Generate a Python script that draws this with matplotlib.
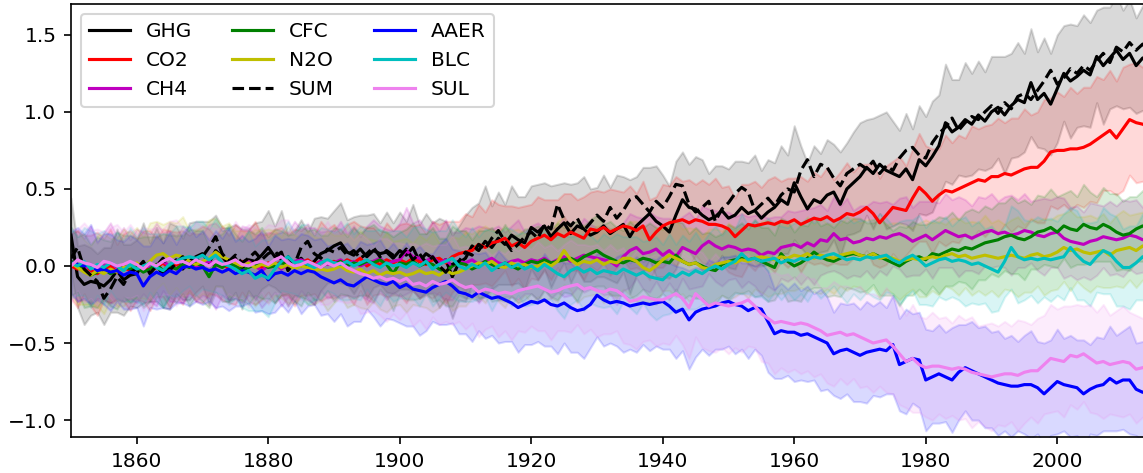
import numpy as np
import matplotlib
matplotlib.use("Agg")
import matplotlib.pyplot as plt

years = list(range(1850, 2015))

# ensemble means (one value per year)
ghg = [0.20, -0.07, -0.12, -0.10, -0.11, -0.13, -0.09, -0.03, -0.09, -0.06,
       -0.05, 0.02, -0.04, 0.01, -0.06, 0.00, 0.04, -0.02, 0.03, 0.06,
       0.08, 0.02, 0.10, 0.06, 0.01, 0.05, -0.02, 0.04, 0.03, 0.07,
       0.12, 0.06, 0.09, -0.03, 0.02, 0.05, 0.00, 0.03, 0.08, 0.10,
       0.13, 0.15, 0.09, 0.07, 0.11, 0.06, 0.10, 0.08, 0.09, 0.05,
       0.10, 0.07, 0.12, 0.03, 0.08, 0.05, 0.02, 0.04, -0.07, 0.02,
       0.05, 0.13, 0.10, 0.16, 0.12, 0.18, 0.14, 0.20, 0.17, 0.15,
       0.25, 0.22, 0.26, 0.19, 0.24, 0.28, 0.21, 0.26, 0.24, 0.20,
       0.22, 0.26, 0.21, 0.24, 0.27, 0.19, 0.26, 0.30, 0.34, 0.29,
       0.26, 0.22, 0.33, 0.43, 0.38, 0.37, 0.33, 0.30, 0.32, 0.36,
       0.31, 0.33, 0.38, 0.34, 0.36, 0.31, 0.35, 0.38, 0.43, 0.40,
       0.54, 0.45, 0.37, 0.43, 0.41, 0.46, 0.48, 0.40, 0.50, 0.54,
       0.58, 0.64, 0.60, 0.66, 0.62, 0.60, 0.58, 0.63, 0.56, 0.69,
       0.65, 0.71, 0.78, 0.93, 0.87, 0.90, 0.95, 0.92, 0.98, 0.94,
       1.00, 1.03, 0.98, 1.04, 1.08, 1.06, 1.19, 1.08, 1.12, 1.05,
       1.15, 1.25, 1.20, 1.23, 1.27, 1.24, 1.36, 1.30, 1.35, 1.40,
       1.34, 1.38, 1.30, 1.35, 1.33]
co2 = [0.00, -0.02, 0.01, -0.03, -0.05, -0.02, 0.00, -0.04, -0.01, -0.03,
       -0.02, 0.00, -0.03, -0.01, 0.02, -0.02, 0.01, -0.01, 0.02, 0.00,
       0.01, 0.03, 0.00, 0.02, -0.02, 0.01, 0.03, 0.00, 0.02, -0.01,
       0.02, 0.00, 0.03, 0.01, -0.01, 0.02, 0.04, 0.01, 0.03, 0.02,
       0.03, 0.01, 0.04, 0.02, 0.05, 0.00, 0.03, 0.01, 0.04, 0.02,
       0.04, 0.02, 0.05, 0.03, 0.01, 0.04, 0.05, 0.02, 0.06, 0.08,
       0.09, 0.10, 0.14, 0.12, 0.15, 0.16, 0.18, 0.13, 0.15, 0.12,
       0.16, 0.18, 0.20, 0.17, 0.21, 0.19, 0.22, 0.20, 0.18, 0.24,
       0.23, 0.25, 0.22, 0.24, 0.26, 0.25, 0.23, 0.26, 0.17, 0.22,
       0.26, 0.28, 0.29, 0.30, 0.28, 0.30, 0.29, 0.27, 0.27, 0.26,
       0.24, 0.19, 0.23, 0.27, 0.26, 0.27, 0.28, 0.27, 0.29, 0.28,
       0.30, 0.27, 0.29, 0.31, 0.30, 0.32, 0.29, 0.31, 0.34, 0.33,
       0.35, 0.38, 0.34, 0.28, 0.33, 0.38, 0.37, 0.36, 0.44, 0.51,
       0.47, 0.42, 0.46, 0.49, 0.48, 0.50, 0.52, 0.54, 0.56, 0.55,
       0.58, 0.58, 0.60, 0.59, 0.61, 0.63, 0.64, 0.64, 0.68, 0.74,
       0.75, 0.75, 0.76, 0.76, 0.77, 0.79, 0.82, 0.85, 0.88, 0.83,
       0.89, 0.95, 0.93, 0.92, 0.90]
ch4 = [0.02, 0.00, -0.02, 0.01, -0.03, 0.00, 0.02, -0.01, 0.01, -0.02,
       0.00, 0.02, -0.01, 0.01, 0.03, 0.00, -0.02, 0.01, 0.02, -0.01,
       0.01, 0.03, 0.00, 0.02, 0.01, -0.02, 0.01, 0.03, 0.00, -0.03,
       0.00, 0.02, -0.02, 0.01, 0.03, 0.04, 0.02, 0.00, 0.03, 0.01,
       0.02, 0.04, 0.01, 0.03, 0.00, 0.02, 0.03, 0.05, 0.01, 0.03,
       0.04, 0.10, 0.06, 0.05, 0.03, 0.06, 0.02, 0.04, 0.00, 0.03,
       0.02, 0.04, 0.01, 0.03, 0.05, 0.02, 0.01, 0.03, 0.04, 0.02,
       0.04, 0.03, 0.05, 0.02, 0.04, 0.06, 0.03, 0.05, 0.07, 0.06,
       0.05, 0.04, 0.03, 0.00, 0.06, 0.10, 0.12, 0.08, 0.09, 0.11,
       0.07, 0.10, 0.06, 0.12, 0.10, 0.08, 0.13, 0.16, 0.13, 0.11,
       0.13, 0.12, 0.10, 0.11, 0.10, 0.07, 0.09, 0.08, 0.12, 0.13,
       0.14, 0.12, 0.15, 0.13, 0.17, 0.16, 0.21, 0.17, 0.18, 0.15,
       0.16, 0.18, 0.17, 0.19, 0.18, 0.20, 0.21, 0.19, 0.16, 0.18,
       0.20, 0.17, 0.20, 0.23, 0.21, 0.19, 0.20, 0.18, 0.20, 0.22,
       0.23, 0.21, 0.22, 0.20, 0.21, 0.23, 0.22, 0.20, 0.19, 0.21,
       0.22, 0.18, 0.16, 0.15, 0.14, 0.16, 0.17, 0.19, 0.18, 0.17,
       0.18, 0.20, 0.19, 0.17, 0.18]
cfc = [0.03, 0.01, -0.03, -0.06, -0.04, -0.02, -0.05, -0.03, 0.00, -0.02,
       -0.01, -0.04, -0.02, 0.01, -0.03, 0.00, -0.02, 0.01, -0.01, 0.02,
       0.00, -0.07, 0.01, -0.01, 0.02, 0.00, -0.03, -0.01, 0.01, 0.02,
       -0.01, 0.00, 0.02, 0.01, -0.01, 0.00, 0.03, 0.01, -0.01, 0.02,
       0.01, 0.03, 0.00, 0.02, 0.01, 0.03, 0.02, 0.04, 0.01, -0.05,
       0.02, 0.01, 0.03, 0.00, 0.02, 0.01, -0.02, -0.04, 0.00, 0.02,
       0.01, -0.02, 0.00, 0.03, 0.01, -0.01, 0.02, 0.00, -0.02, 0.01,
       0.03, 0.02, 0.04, 0.02, 0.03, 0.04, 0.05, 0.03, 0.06, 0.08,
       0.10, 0.07, 0.05, 0.03, 0.02, 0.04, 0.03, 0.05, 0.04, 0.02,
       0.03, 0.02, 0.07, 0.03, 0.01, 0.02, 0.00, -0.02, -0.03, 0.01,
       0.03, 0.04, 0.05, 0.04, 0.05, 0.03, 0.01, -0.01, 0.08, 0.03,
       0.00, 0.02, 0.05, 0.09, 0.06, 0.04, 0.03, 0.05, 0.07, 0.08,
       0.07, 0.06, 0.08, 0.06, 0.04, 0.02, 0.00, 0.03, 0.05, 0.06,
       0.04, 0.08, 0.07, 0.09, 0.11, 0.10, 0.12, 0.11, 0.13, 0.15,
       0.16, 0.17, 0.19, 0.20, 0.18, 0.17, 0.19, 0.22, 0.23, 0.25,
       0.22, 0.26, 0.24, 0.23, 0.27, 0.25, 0.24, 0.27, 0.25, 0.22,
       0.20, 0.21, 0.24, 0.26, 0.25]
n2o = [0.02, -0.01, -0.04, -0.06, -0.03, -0.05, -0.02, -0.04, -0.01, 0.00,
       0.02, -0.01, 0.03, 0.07, 0.08, 0.05, 0.07, 0.06, 0.03, 0.01,
       0.03, 0.05, 0.09, 0.06, 0.04, 0.02, 0.00, 0.02, -0.01, 0.01,
       0.00, 0.02, -0.01, 0.01, -0.02, 0.00, -0.01, -0.03, -0.02, -0.03,
       -0.02, 0.00, -0.03, -0.04, -0.02, -0.05, -0.03, -0.06, -0.04, -0.05,
       -0.04, -0.06, -0.05, -0.03, -0.05, -0.04, -0.06, -0.03, -0.05, -0.04,
       -0.02, 0.00, 0.02, 0.01, 0.03, 0.00, -0.01, 0.02, 0.00, 0.01,
       -0.01, 0.00, 0.02, 0.00, 0.03, 0.10, 0.04, 0.01, 0.03, 0.02,
       0.04, 0.01, 0.03, 0.02, 0.05, 0.05, 0.03, -0.01, -0.03, 0.00,
       0.04, 0.07, 0.05, 0.03, 0.01, 0.02, -0.01, -0.02, 0.01, 0.02,
       0.03, 0.02, 0.04, 0.03, 0.05, 0.06, 0.05, 0.04, 0.06, 0.05,
       0.07, 0.06, 0.08, 0.05, 0.07, 0.06, 0.05, 0.07, 0.08, 0.09,
       0.07, 0.06, 0.08, 0.05, 0.06, 0.05, 0.03, 0.04, 0.05, 0.04,
       0.05, 0.06, 0.05, 0.07, 0.08, 0.06, 0.07, 0.05, 0.06, 0.07,
       0.06, 0.05, 0.06, 0.07, 0.06, 0.05, 0.07, 0.08, 0.06, 0.07,
       0.09, 0.12, 0.10, 0.11, 0.09, 0.08, 0.09, 0.10, 0.07, 0.10,
       0.11, 0.12, 0.10, 0.13, 0.12]
total = [0.05, 0.12, -0.02, -0.06, -0.10, -0.21, -0.15, -0.07, -0.12, -0.04,
         -0.02, 0.03, -0.05, 0.00, 0.05, -0.03, 0.02, 0.06, 0.01, 0.04,
         0.06, 0.12, 0.19, 0.08, 0.03, 0.07, 0.02, 0.05, 0.09, 0.04,
         0.08, 0.10, 0.04, 0.06, 0.01, 0.12, 0.16, 0.08, 0.05, 0.11,
         0.09, 0.12, 0.07, 0.10, 0.05, 0.08, 0.12, 0.06, 0.10, 0.07,
         0.06, 0.11, 0.04, 0.08, 0.02, 0.06, 0.00, -0.04, 0.01, 0.03,
         0.09, 0.07, 0.14, 0.11, 0.18, 0.23, 0.16, 0.10, 0.14, 0.19,
         0.22, 0.18, 0.27, 0.24, 0.40, 0.30, 0.26, 0.31, 0.23, 0.28,
         0.33, 0.29, 0.38, 0.31, 0.36, 0.43, 0.45, 0.40, 0.35, 0.42,
         0.38, 0.45, 0.53, 0.52, 0.40, 0.35, 0.38, 0.42, 0.29, 0.37,
         0.41, 0.47, 0.51, 0.48, 0.36, 0.40, 0.44, 0.39, 0.46, 0.50,
         0.48, 0.62, 0.69, 0.58, 0.66, 0.64, 0.57, 0.52, 0.60, 0.63,
         0.66, 0.63, 0.68, 0.60, 0.65, 0.62, 0.70, 0.75, 0.77, 0.72,
         0.70, 0.80, 0.86, 0.90, 0.96, 0.88, 0.93, 0.97, 0.95, 1.00,
         1.04, 0.99, 1.06, 1.02, 1.10, 1.12, 1.08, 1.14, 1.20, 1.27,
         1.18, 1.22, 1.28, 1.25, 1.30, 1.27, 1.33, 1.38, 1.32, 1.42,
         1.39, 1.45, 1.40, 1.44, 1.38]
aaer = [0.02, 0.01, 0.00, 0.01, -0.03, -0.02, -0.04, -0.03, -0.06, -0.04,
        -0.05, -0.13, -0.07, -0.04, -0.06, -0.03, -0.05, -0.01, 0.00, -0.02,
        -0.01, -0.03, -0.02, -0.04, -0.02, -0.05, -0.03, -0.04, -0.06, -0.03,
        -0.09, -0.05, -0.04, -0.06, -0.03, -0.05, -0.03, -0.04, -0.07, -0.09,
        -0.11, -0.09, -0.12, -0.13, -0.10, -0.07, -0.09, -0.11, -0.12, -0.10,
        -0.14, -0.12, -0.15, -0.16, -0.17, -0.14, -0.12, -0.10, -0.13, -0.17,
        -0.18, -0.20, -0.17, -0.19, -0.21, -0.20, -0.22, -0.24, -0.27, -0.25,
        -0.23, -0.24, -0.22, -0.25, -0.26, -0.24, -0.27, -0.29, -0.28, -0.25,
        -0.19, -0.22, -0.24, -0.23, -0.24, -0.26, -0.25, -0.24, -0.25, -0.24,
        -0.23, -0.26, -0.30, -0.28, -0.35, -0.30, -0.28, -0.27, -0.26, -0.24,
        -0.23, -0.25, -0.26, -0.29, -0.27, -0.28, -0.36, -0.44, -0.42, -0.43,
        -0.43, -0.45, -0.44, -0.46, -0.48, -0.50, -0.57, -0.55, -0.54, -0.56,
        -0.58, -0.56, -0.55, -0.54, -0.55, -0.51, -0.64, -0.62, -0.60, -0.61,
        -0.74, -0.72, -0.70, -0.72, -0.74, -0.69, -0.66, -0.68, -0.70, -0.72,
        -0.74, -0.76, -0.77, -0.78, -0.78, -0.77, -0.77, -0.79, -0.83, -0.79,
        -0.75, -0.77, -0.78, -0.79, -0.83, -0.80, -0.78, -0.77, -0.73, -0.76,
        -0.74, -0.74, -0.80, -0.82, -0.81]
blc = [0.02, 0.00, 0.03, -0.02, 0.01, -0.01, 0.02, 0.00, -0.03, 0.01,
       -0.02, 0.00, 0.02, -0.01, -0.03, 0.01, 0.03, 0.05, 0.06, 0.05,
       0.07, 0.04, 0.07, 0.02, 0.00, -0.02, -0.05, -0.03, -0.08, -0.06,
       -0.08, -0.02, 0.03, 0.06, 0.02, 0.03, 0.01, -0.01, 0.02, 0.04,
       0.02, 0.01, 0.03, 0.00, 0.02, 0.04, 0.01, -0.01, 0.02, 0.00,
       0.01, -0.01, 0.02, 0.00, 0.03, -0.02, 0.01, 0.03, 0.05, 0.00,
       -0.02, 0.01, -0.01, 0.02, -0.03, 0.00, 0.02, -0.01, 0.01, -0.02,
       0.00, -0.03, 0.01, -0.02, -0.05, -0.07, -0.03, -0.01, -0.04, -0.02,
       -0.05, -0.03, -0.04, -0.05, -0.02, -0.04, -0.06, -0.04, -0.07, -0.08,
       -0.09, -0.05, -0.07, -0.04, -0.06, -0.03, -0.05, -0.02, 0.00, -0.02,
       0.01, 0.03, 0.08, 0.04, 0.05, 0.03, 0.04, 0.05, 0.02, 0.04,
       0.03, 0.05, 0.04, 0.06, 0.05, 0.07, 0.08, 0.06, 0.04, 0.05,
       0.04, 0.06, 0.05, 0.06, 0.07, 0.04, 0.02, 0.05, 0.07, 0.04,
       0.00, 0.02, 0.04, 0.05, 0.03, 0.04, 0.03, 0.01, 0.02, 0.00,
       -0.02, -0.04, 0.03, 0.12, 0.06, 0.04, 0.05, 0.04, 0.05, 0.04,
       0.05, 0.06, 0.12, 0.07, 0.03, 0.01, 0.06, 0.10, 0.08, 0.03,
       -0.01, -0.01, 0.02, 0.06, 0.05]
sul = [0.00, 0.04, 0.02, 0.01, -0.01, 0.03, 0.02, 0.00, 0.01, 0.03,
       0.01, -0.02, 0.02, 0.00, 0.03, 0.05, 0.02, 0.03, 0.01, 0.04,
       0.02, 0.00, 0.03, 0.01, 0.02, 0.04, 0.01, 0.00, 0.02, 0.03,
       0.01, 0.04, 0.06, 0.02, 0.00, 0.01, 0.03, 0.01, -0.01, 0.02,
       0.00, 0.02, -0.01, -0.03, -0.05, -0.06, -0.08, -0.07, -0.09, -0.08,
       -0.10, -0.08, -0.12, -0.11, -0.13, -0.10, -0.12, -0.11, -0.09, -0.12,
       -0.14, -0.13, -0.17, -0.15, -0.16, -0.18, -0.17, -0.18, -0.16, -0.15,
       -0.14, -0.13, -0.15, -0.17, -0.16, -0.14, -0.13, -0.12, -0.15, -0.14,
       -0.16, -0.17, -0.15, -0.16, -0.19, -0.23, -0.22, -0.20, -0.21, -0.22,
       -0.22, -0.20, -0.18, -0.21, -0.27, -0.18, -0.22, -0.26, -0.24, -0.25,
       -0.26, -0.25, -0.24, -0.22, -0.26, -0.31, -0.34, -0.37, -0.36, -0.37,
       -0.38, -0.37, -0.38, -0.40, -0.42, -0.45, -0.44, -0.43, -0.45, -0.44,
       -0.46, -0.48, -0.50, -0.49, -0.48, -0.52, -0.57, -0.62, -0.60, -0.64,
       -0.66, -0.65, -0.65, -0.66, -0.67, -0.66, -0.67, -0.69, -0.70, -0.71,
       -0.72, -0.71, -0.70, -0.70, -0.71, -0.69, -0.68, -0.68, -0.64, -0.60,
       -0.61, -0.62, -0.58, -0.59, -0.57, -0.60, -0.63, -0.62, -0.64, -0.63,
       -0.62, -0.63, -0.67, -0.66, -0.65]

# ensemble spread (half width of the shaded band)
ghg_sd = [0.24, 0.20, 0.26, 0.22, 0.19, 0.25, 0.21, 0.27, 0.23, 0.20,
          0.22, 0.26, 0.19, 0.24, 0.21, 0.28, 0.22, 0.20, 0.25, 0.23,
          0.21, 0.27, 0.23, 0.19, 0.24, 0.22, 0.26, 0.20, 0.25, 0.22,
          0.24, 0.20, 0.27, 0.23, 0.21, 0.25, 0.22, 0.28, 0.24, 0.21,
          0.23, 0.26, 0.21, 0.25, 0.22, 0.27, 0.24, 0.20, 0.26, 0.23,
          0.25, 0.22, 0.28, 0.24, 0.26, 0.23, 0.29, 0.25, 0.27, 0.24,
          0.28, 0.25, 0.31, 0.36, 0.27, 0.30, 0.26, 0.32, 0.28, 0.30,
          0.27, 0.31, 0.28, 0.33, 0.29, 0.26, 0.32, 0.28, 0.34, 0.30,
          0.29, 0.33, 0.30, 0.35, 0.31, 0.37, 0.32, 0.34, 0.30, 0.36,
          0.33, 0.30, 0.35, 0.31, 0.28, 0.34, 0.36, 0.30, 0.33, 0.29,
          0.32, 0.35, 0.30, 0.33, 0.36, 0.31, 0.34, 0.29, 0.35, 0.32,
          0.37, 0.33, 0.30, 0.35, 0.32, 0.36, 0.31, 0.34, 0.30, 0.33,
          0.35, 0.31, 0.36, 0.32, 0.38, 0.34, 0.30, 0.36, 0.33, 0.35,
          0.32, 0.36, 0.33, 0.38, 0.34, 0.31, 0.37, 0.33, 0.35, 0.32,
          0.36, 0.33, 0.38, 0.34, 0.37, 0.32, 0.35, 0.31, 0.36, 0.33,
          0.35, 0.31, 0.37, 0.33, 0.36, 0.34, 0.30, 0.38, 0.33, 0.36,
          0.32, 0.35, 0.31, 0.34, 0.33]
co2_sd = [0.21, 0.25, 0.19, 0.23, 0.27, 0.20, 0.24, 0.18, 0.22, 0.26,
          0.20, 0.23, 0.26, 0.19, 0.22, 0.25, 0.21, 0.24, 0.18, 0.23,
          0.25, 0.21, 0.19, 0.24, 0.22, 0.26, 0.20, 0.23, 0.27, 0.21,
          0.19, 0.24, 0.22, 0.20, 0.25, 0.21, 0.23, 0.19, 0.26, 0.22,
          0.24, 0.20, 0.23, 0.27, 0.21, 0.25, 0.22, 0.19, 0.24, 0.21,
          0.23, 0.26, 0.21, 0.24, 0.20, 0.25, 0.22, 0.27, 0.23, 0.21,
          0.25, 0.22, 0.26, 0.23, 0.28, 0.24, 0.21, 0.26, 0.23, 0.27,
          0.24, 0.27, 0.23, 0.26, 0.22, 0.28, 0.25, 0.23, 0.27, 0.24,
          0.26, 0.23, 0.28, 0.25, 0.22, 0.27, 0.24, 0.29, 0.26, 0.23,
          0.27, 0.24, 0.29, 0.25, 0.28, 0.23, 0.27, 0.26, 0.30, 0.25,
          0.28, 0.25, 0.30, 0.26, 0.29, 0.24, 0.28, 0.31, 0.26, 0.29,
          0.27, 0.31, 0.26, 0.30, 0.28, 0.32, 0.27, 0.30, 0.33, 0.28,
          0.31, 0.28, 0.33, 0.29, 0.32, 0.30, 0.34, 0.29, 0.32, 0.35,
          0.31, 0.34, 0.30, 0.36, 0.32, 0.35, 0.31, 0.37, 0.33, 0.36,
          0.34, 0.38, 0.33, 0.37, 0.35, 0.39, 0.34, 0.36, 0.40, 0.35,
          0.38, 0.35, 0.40, 0.36, 0.39, 0.37, 0.41, 0.36, 0.39, 0.37,
          0.40, 0.36, 0.39, 0.37, 0.38]
ch4_sd = [0.19, 0.23, 0.20, 0.25, 0.18, 0.22, 0.26, 0.20, 0.24, 0.19,
          0.24, 0.20, 0.22, 0.27, 0.19, 0.23, 0.21, 0.25, 0.20, 0.22,
          0.20, 0.24, 0.28, 0.21, 0.23, 0.19, 0.25, 0.22, 0.20, 0.24,
          0.22, 0.19, 0.24, 0.21, 0.26, 0.20, 0.23, 0.25, 0.19, 0.22,
          0.21, 0.25, 0.20, 0.23, 0.19, 0.24, 0.27, 0.21, 0.23, 0.20,
          0.24, 0.28, 0.22, 0.25, 0.20, 0.23, 0.21, 0.26, 0.22, 0.19,
          0.23, 0.20, 0.25, 0.22, 0.19, 0.24, 0.21, 0.23, 0.26, 0.20,
          0.22, 0.25, 0.20, 0.23, 0.21, 0.26, 0.22, 0.19, 0.24, 0.21,
          0.20, 0.23, 0.21, 0.25, 0.22, 0.24, 0.20, 0.23, 0.26, 0.21,
          0.24, 0.21, 0.23, 0.20, 0.25, 0.22, 0.26, 0.21, 0.23, 0.24,
          0.22, 0.20, 0.24, 0.21, 0.23, 0.26, 0.22, 0.24, 0.20, 0.23,
          0.21, 0.24, 0.22, 0.25, 0.23, 0.20, 0.24, 0.22, 0.26, 0.21,
          0.23, 0.21, 0.25, 0.22, 0.24, 0.20, 0.23, 0.26, 0.22, 0.24,
          0.22, 0.25, 0.21, 0.24, 0.22, 0.26, 0.23, 0.21, 0.25, 0.22,
          0.24, 0.21, 0.23, 0.26, 0.22, 0.24, 0.20, 0.23, 0.25, 0.22,
          0.23, 0.26, 0.22, 0.24, 0.21, 0.25, 0.23, 0.20, 0.24, 0.22,
          0.25, 0.22, 0.24, 0.21, 0.23]
cfc_sd = [0.22, 0.18, 0.24, 0.20, 0.23, 0.19, 0.21, 0.25, 0.20, 0.22,
          0.19, 0.23, 0.21, 0.18, 0.24, 0.20, 0.22, 0.19, 0.25, 0.21,
          0.23, 0.20, 0.18, 0.22, 0.25, 0.21, 0.19, 0.24, 0.20, 0.23,
          0.20, 0.24, 0.21, 0.19, 0.22, 0.26, 0.20, 0.23, 0.21, 0.18,
          0.24, 0.21, 0.19, 0.23, 0.20, 0.22, 0.25, 0.19, 0.21, 0.24,
          0.20, 0.23, 0.25, 0.21, 0.19, 0.24, 0.20, 0.22, 0.26, 0.21,
          0.22, 0.19, 0.23, 0.20, 0.24, 0.21, 0.25, 0.20, 0.22, 0.23,
          0.21, 0.24, 0.20, 0.22, 0.25, 0.21, 0.23, 0.26, 0.20, 0.22,
          0.23, 0.20, 0.24, 0.22, 0.21, 0.25, 0.22, 0.20, 0.24, 0.23,
          0.21, 0.24, 0.22, 0.25, 0.20, 0.23, 0.21, 0.24, 0.22, 0.20,
          0.24, 0.21, 0.23, 0.20, 0.25, 0.22, 0.24, 0.21, 0.23, 0.26,
          0.22, 0.25, 0.21, 0.23, 0.20, 0.24, 0.22, 0.25, 0.21, 0.23,
          0.24, 0.22, 0.20, 0.25, 0.23, 0.21, 0.26, 0.22, 0.24, 0.21,
          0.23, 0.21, 0.25, 0.22, 0.24, 0.20, 0.23, 0.26, 0.22, 0.24,
          0.21, 0.24, 0.22, 0.25, 0.23, 0.26, 0.21, 0.24, 0.22, 0.25,
          0.23, 0.21, 0.25, 0.22, 0.26, 0.23, 0.21, 0.24, 0.22, 0.25,
          0.22, 0.24, 0.21, 0.23, 0.25]
n2o_sd = [0.20, 0.24, 0.21, 0.19, 0.23, 0.26, 0.20, 0.22, 0.25, 0.21,
          0.23, 0.20, 0.25, 0.22, 0.19, 0.24, 0.21, 0.26, 0.20, 0.23,
          0.21, 0.25, 0.22, 0.20, 0.24, 0.21, 0.23, 0.19, 0.25, 0.22,
          0.24, 0.21, 0.20, 0.25, 0.22, 0.19, 0.24, 0.22, 0.20, 0.26,
          0.22, 0.20, 0.24, 0.21, 0.25, 0.23, 0.20, 0.22, 0.26, 0.21,
          0.21, 0.24, 0.20, 0.23, 0.22, 0.26, 0.21, 0.19, 0.24, 0.22,
          0.24, 0.21, 0.22, 0.25, 0.20, 0.23, 0.26, 0.21, 0.24, 0.20,
          0.23, 0.20, 0.24, 0.21, 0.26, 0.22, 0.20, 0.25, 0.23, 0.21,
          0.22, 0.25, 0.21, 0.23, 0.20, 0.24, 0.26, 0.22, 0.21, 0.25,
          0.20, 0.23, 0.25, 0.21, 0.24, 0.22, 0.20, 0.26, 0.23, 0.21,
          0.25, 0.22, 0.21, 0.24, 0.20, 0.23, 0.25, 0.22, 0.24, 0.21,
          0.23, 0.20, 0.24, 0.22, 0.25, 0.21, 0.23, 0.20, 0.24, 0.22,
          0.21, 0.24, 0.22, 0.26, 0.21, 0.23, 0.25, 0.22, 0.20, 0.24,
          0.25, 0.22, 0.24, 0.20, 0.23, 0.25, 0.21, 0.24, 0.22, 0.26,
          0.22, 0.25, 0.21, 0.23, 0.26, 0.22, 0.24, 0.21, 0.25, 0.23,
          0.24, 0.22, 0.26, 0.21, 0.23, 0.25, 0.22, 0.24, 0.21, 0.23,
          0.25, 0.21, 0.24, 0.22, 0.23]
aaer_sd = [0.20, 0.24, 0.21, 0.26, 0.19, 0.23, 0.25, 0.20, 0.22, 0.24,
           0.22, 0.26, 0.20, 0.24, 0.21, 0.25, 0.19, 0.23, 0.26, 0.21,
           0.24, 0.20, 0.25, 0.22, 0.27, 0.21, 0.23, 0.20, 0.24, 0.26,
           0.22, 0.25, 0.21, 0.24, 0.20, 0.26, 0.23, 0.21, 0.25, 0.22,
           0.25, 0.22, 0.27, 0.23, 0.26, 0.21, 0.24, 0.28, 0.22, 0.25,
           0.23, 0.27, 0.24, 0.29, 0.25, 0.22, 0.26, 0.28, 0.24, 0.27,
           0.26, 0.29, 0.25, 0.28, 0.24, 0.30, 0.27, 0.25, 0.29, 0.26,
           0.28, 0.25, 0.30, 0.27, 0.31, 0.26, 0.29, 0.27, 0.32, 0.28,
           0.27, 0.30, 0.26, 0.29, 0.32, 0.28, 0.31, 0.27, 0.30, 0.28,
           0.31, 0.28, 0.30, 0.27, 0.32, 0.29, 0.26, 0.31, 0.28, 0.30,
           0.29, 0.32, 0.28, 0.31, 0.27, 0.30, 0.33, 0.29, 0.31, 0.28,
           0.32, 0.29, 0.31, 0.28, 0.33, 0.30, 0.27, 0.31, 0.29, 0.32,
           0.30, 0.33, 0.29, 0.31, 0.28, 0.32, 0.30, 0.34, 0.29, 0.31,
           0.33, 0.30, 0.32, 0.29, 0.34, 0.31, 0.28, 0.32, 0.30, 0.33,
           0.31, 0.34, 0.30, 0.33, 0.29, 0.32, 0.35, 0.30, 0.33, 0.31,
           0.34, 0.30, 0.33, 0.31, 0.35, 0.29, 0.32, 0.30, 0.34, 0.31,
           0.32, 0.35, 0.30, 0.33, 0.31]
blc_sd = [0.23, 0.19, 0.22, 0.25, 0.20, 0.24, 0.18, 0.22, 0.20, 0.24,
          0.21, 0.25, 0.19, 0.22, 0.24, 0.20, 0.23, 0.21, 0.19, 0.24,
          0.22, 0.20, 0.24, 0.21, 0.25, 0.19, 0.22, 0.26, 0.21, 0.23,
          0.25, 0.22, 0.19, 0.23, 0.20, 0.24, 0.26, 0.21, 0.23, 0.20,
          0.20, 0.23, 0.25, 0.21, 0.24, 0.19, 0.22, 0.25, 0.20, 0.23,
          0.22, 0.20, 0.23, 0.26, 0.21, 0.24, 0.22, 0.20, 0.25, 0.23,
          0.21, 0.24, 0.20, 0.22, 0.26, 0.21, 0.23, 0.25, 0.20, 0.24,
          0.25, 0.21, 0.23, 0.20, 0.24, 0.27, 0.22, 0.21, 0.25, 0.22,
          0.21, 0.24, 0.22, 0.26, 0.21, 0.23, 0.25, 0.20, 0.24, 0.27,
          0.23, 0.26, 0.21, 0.24, 0.22, 0.25, 0.20, 0.23, 0.26, 0.22,
          0.24, 0.21, 0.26, 0.22, 0.25, 0.23, 0.27, 0.22, 0.24, 0.21,
          0.25, 0.23, 0.27, 0.22, 0.26, 0.24, 0.21, 0.25, 0.28, 0.23,
          0.26, 0.23, 0.25, 0.28, 0.24, 0.22, 0.27, 0.25, 0.23, 0.29,
          0.25, 0.28, 0.24, 0.27, 0.23, 0.26, 0.29, 0.25, 0.27, 0.24,
          0.28, 0.25, 0.23, 0.27, 0.30, 0.26, 0.24, 0.28, 0.25, 0.27,
          0.24, 0.28, 0.26, 0.29, 0.25, 0.27, 0.23, 0.28, 0.26, 0.29,
          0.25, 0.27, 0.24, 0.28, 0.26]
sul_sd = [0.24, 0.20, 0.26, 0.22, 0.25, 0.19, 0.23, 0.27, 0.21, 0.24,
          0.20, 0.27, 0.22, 0.25, 0.21, 0.24, 0.28, 0.22, 0.20, 0.25,
          0.23, 0.26, 0.21, 0.24, 0.20, 0.25, 0.22, 0.27, 0.23, 0.20,
          0.26, 0.22, 0.24, 0.28, 0.21, 0.23, 0.25, 0.20, 0.24, 0.27,
          0.22, 0.25, 0.23, 0.20, 0.26, 0.24, 0.21, 0.25, 0.27, 0.23,
          0.25, 0.22, 0.27, 0.24, 0.28, 0.23, 0.26, 0.25, 0.29, 0.24,
          0.27, 0.24, 0.29, 0.26, 0.23, 0.28, 0.25, 0.30, 0.26, 0.28,
          0.25, 0.29, 0.27, 0.31, 0.26, 0.28, 0.30, 0.26, 0.29, 0.27,
          0.30, 0.27, 0.29, 0.26, 0.31, 0.28, 0.32, 0.29, 0.27, 0.30,
          0.28, 0.31, 0.27, 0.30, 0.33, 0.28, 0.31, 0.29, 0.32, 0.28,
          0.31, 0.28, 0.32, 0.30, 0.27, 0.31, 0.29, 0.33, 0.30, 0.32,
          0.29, 0.33, 0.30, 0.32, 0.28, 0.31, 0.34, 0.30, 0.32, 0.29,
          0.33, 0.30, 0.32, 0.29, 0.34, 0.31, 0.33, 0.30, 0.35, 0.31,
          0.32, 0.35, 0.31, 0.33, 0.30, 0.34, 0.32, 0.36, 0.31, 0.33,
          0.35, 0.32, 0.34, 0.31, 0.36, 0.33, 0.30, 0.34, 0.32, 0.35,
          0.33, 0.36, 0.32, 0.34, 0.31, 0.35, 0.33, 0.37, 0.32, 0.34,
          0.36, 0.33, 0.35, 0.32, 0.34]

# (label, mean, spread, colour, linestyle) in legend order
series = [
    ("GHG", ghg, ghg_sd, "k", "-"),
    ("CO2", co2, co2_sd, "r", "-"),
    ("CH4", ch4, ch4_sd, "m", "-"),
    ("CFC", cfc, cfc_sd, "g", "-"),
    ("N2O", n2o, n2o_sd, "y", "-"),
    ("SUM", total, None, "k", "--"),
    ("AAER", aaer, aaer_sd, "b", "-"),
    ("BLC", blc, blc_sd, "c", "-"),
    ("SUL", sul, sul_sd, "violet", "-"),
]

plt.rcParams["font.size"] = 9.7

fig = plt.figure(figsize=(1143 / 150, 473 / 150), dpi=150)
ax = fig.add_axes([0.0621, 0.0761, 0.9434, 0.9154])

x = np.array(years)
for label, mean, sd, color, ls in series:
    mean = np.array(mean)
    ax.plot(x, mean, color=color, linestyle=ls, linewidth=1.5, label=label)
    if sd is not None:
        sd = np.array(sd)
        ax.fill_between(x, mean - sd, mean + sd, color=color, alpha=0.15)

ax.set_xlim(1850, 2014)
ax.set_ylim(-1.11, 1.70)
ax.set_xticks([1860, 1880, 1900, 1920, 1940, 1960, 1980, 2000])
ax.legend(loc="upper left", ncol=3)

fig.savefig("out.png", dpi=150)
